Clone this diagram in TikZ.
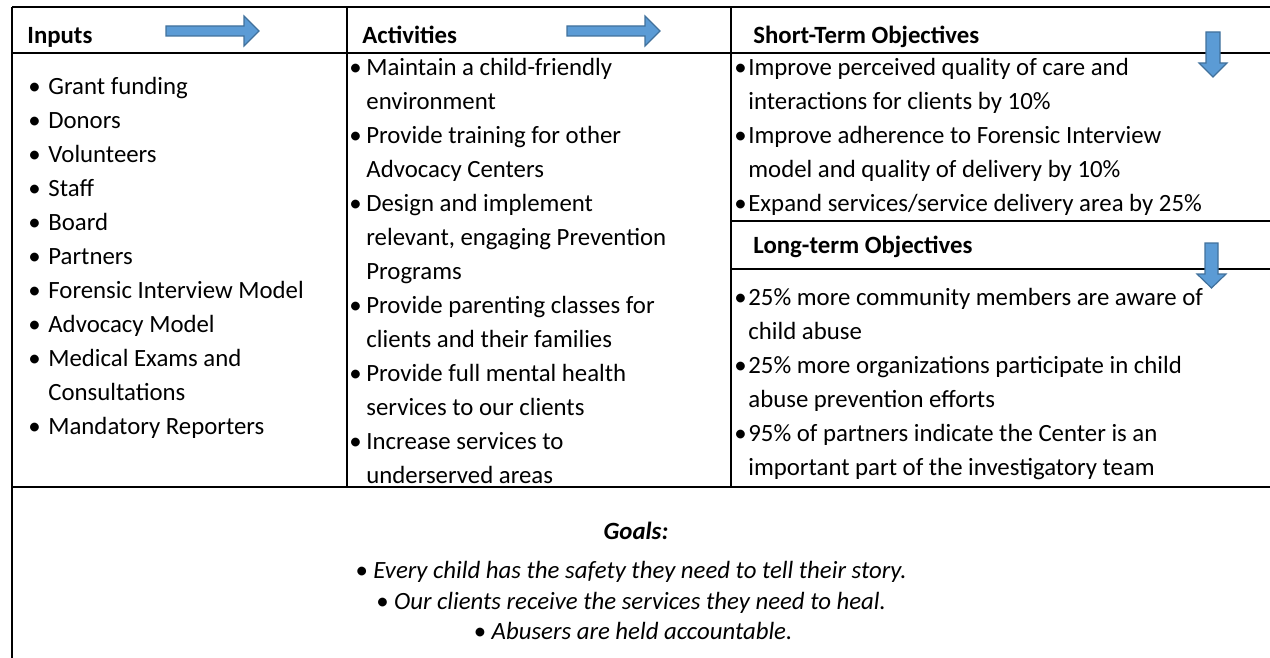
\documentclass[tikz,border=0pt]{standalone}
\usepackage{fontspec}
\setmainfont{Carlito}
\usetikzlibrary{positioning}
\definecolor{arrowfill}{HTML}{5B9BD5}
\definecolor{arrowline}{HTML}{41719C}
\newlength{\bulindent}
\setlength{\bulindent}{7pt}
\newcommand{\cellfont}{\fontsize{12.4}{17}\selectfont}
\newcommand{\bul}{\strut\makebox[\bulindent][l]{\textbullet}}
\newcommand{\cont}{\strut\hspace*{\bulindent}}

\begin{document}
\begin{tikzpicture}[x=0.5pt,y=-0.5pt,
    rule/.style={line width=0.8pt},
    head/.style={anchor=north west,inner sep=0pt,font=\cellfont\bfseries},
    cell/.style={anchor=north west,inner sep=0pt,align=left,font=\cellfont},
    bulletgap/.style={execute at begin node={\setlength{\bulindent}{#1}}},
    goal/.style={anchor=north,inner sep=0pt,font=\cellfont\itshape},
    blockarrow/.style={fill=arrowfill,draw=arrowline,line width=0.6pt}]
    \useasboundingbox (0,0) rectangle (1270,658);
    % Table rules
    \draw[rule] (12,7) -- (1270,7);
    \draw[rule] (12,53) -- (1270,53);
    \draw[rule] (12,487) -- (1270,487);
    \draw[rule] (12,7) -- (12,658);
    \draw[rule] (347,7) -- (347,487);
    \draw[rule] (731,7) -- (731,487);
    \draw[rule] (731,221) -- (1270,221);
    \draw[rule] (731,269) -- (1270,269);
    % Column headers
    \node[head] (inhead) at (27,19) {\strut Inputs};
    \node[head] (acthead) at (362,19) {\strut Activities};
    \node[head] (shorthead) at (753,19) {\strut Short-Term Objectives};
    \node[head] (longhead) at (753,229) {\strut Long-term Objectives};
    % Inputs
    \node[cell,bulletgap=10pt] (inlist) at (28,70) {\bul Grant funding\\
        \bul Donors\\
        \bul Volunteers\\
        \bul Staff\\
        \bul Board\\
        \bul Partners\\
        \bul Forensic Interview Model\\
        \bul Advocacy Model\\
        \bul Medical Exams and\\
        \cont Consultations\\
        \bul Mandatory Reporters};
    % Activities
    \node[cell,bulletgap=8.5pt] (actlist) at (349,51) {\bul Maintain a child-friendly\\
        \cont environment\\
        \bul Provide training for other\\
        \cont Advocacy Centers\\
        \bul Design and implement\\
        \cont relevant, engaging Prevention\\
        \cont Programs\\
        \bul Provide parenting classes for\\
        \cont clients and their families\\
        \bul Provide full mental health\\
        \cont services to our clients\\
        \bul Increase services to\\
        \cont underserved areas};
    % Objectives
    \node[cell] (shortlist) at (734,51) {\bul Improve perceived quality of care and\\
        \cont interactions for clients by 10\%\\
        \bul Improve adherence to Forensic Interview\\
        \cont model and quality of delivery by 10\%\\
        \bul Expand services/service delivery area by 25\%};
    \node[cell] (longlist) at (734,281) {\bul 25\% more community members are aware of\\
        \cont child abuse\\
        \bul 25\% more organizations participate in child\\
        \cont abuse prevention efforts\\
        \bul 95\% of partners indicate the Center is an\\
        \cont important part of the investigatory team};
    % Goals
    \node[goal,font=\cellfont\bfseries\itshape] (goalhead) at (636,515) {\strut Goals:};
    \node[goal] (goal1) at (631,554) {\strut\textbullet\ Every child has the safety they need to tell their story.};
    \node[goal] (goal2) at (631,585) {\strut\textbullet\ Our clients receive the services they need to heal.};
    \node[goal] (goal3) at (633,615) {\strut\textbullet\ Abusers are held accountable.};
    % Flow arrows
    \foreach \ax in {166,567}
        \draw[blockarrow] (\ax,26) -- ++(78,0) -- ++(0,-10) -- ++(15,15) -- ++(-15,15)
            -- ++(0,-10) -- ++(-78,0) -- cycle;
    \draw[blockarrow] (1206,32) -- (1220,32) -- (1220,63) -- (1227,63) -- (1213,77)
        -- (1199,63) -- (1206,63) -- cycle;
    \draw[blockarrow] (1205,243) -- (1218,243) -- (1218,274) -- (1226,274) -- (1211.5,288)
        -- (1197,274) -- (1205,274) -- cycle;
\end{tikzpicture}
\end{document}
